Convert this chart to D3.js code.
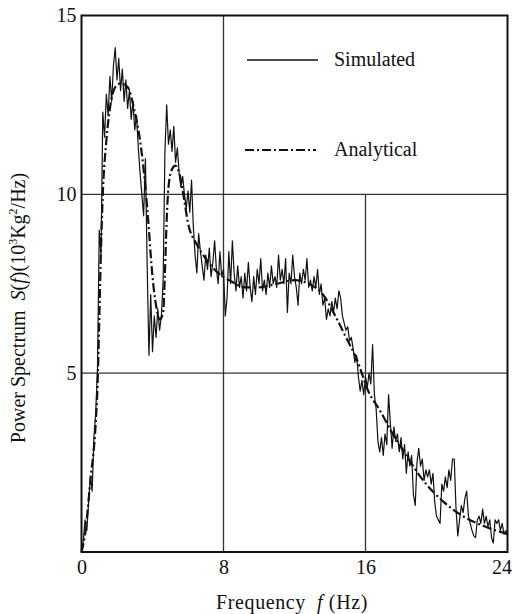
<!DOCTYPE html>
<html>
<head>
<meta charset="utf-8">
<script src="https://cdn.jsdelivr.net/npm/d3@7"></script>
<style>
  body { margin: 0; background: #fff; }
  svg text { font-family: "Liberation Serif", "DejaVu Serif", serif; fill: #111; }
</style>
</head>
<body>
<svg id="chart" width="512" height="614"></svg>
<script>
// ---- data ----
const xTicks = [0, 8, 16, 24];
const yTicks = [5, 10, 15];
const xGrid = [8];          // full-height vertical grid
const xGridLower = [16];    // vertical grid from 10 down to 0
const yGrid = [5, 10];
const seriesNames = ["Simulated", "Analytical"];

// Simulated spectrum, sampled every 0.1 Hz from 0 to 24 Hz
const simStep = 0.1;
const simulated = [
  0.0, 0.3, 0.9, 0.6, 1.4, 2.1, 1.7, 3.2, 3.9, 5.1,
  9.0, 8.3, 12.3, 11.6, 12.8, 12.2, 13.3, 12.6, 13.6, 14.1,
  13.2, 13.8, 12.9, 13.5, 12.6, 13.2, 12.4, 12.9, 12.1, 12.6,
  11.8, 12.2, 11.3, 10.6, 10.0, 9.4, 11.0, 8.0, 5.5, 7.2,
  5.6, 6.6, 6.0, 6.8, 6.2, 6.6, 7.6, 11.2, 12.5, 11.4,
  11.8, 11.2, 11.9, 10.9, 11.3, 10.6, 10.2, 10.5, 10.0, 9.6,
  10.1, 9.5, 10.4, 9.1, 8.3, 7.8, 8.9, 8.4, 8.0, 7.6,
  8.3, 7.9, 8.5, 7.7, 8.1, 8.7, 7.9, 7.5, 8.4, 7.7,
  7.9, 6.6, 7.1, 8.4, 7.5, 8.7, 7.8, 7.3, 8.0, 7.4,
  7.7, 7.1, 7.8, 7.3, 8.1, 7.4, 7.0, 7.7, 7.2, 7.9,
  7.5, 8.2, 7.3, 7.6, 7.2, 7.8, 7.4, 8.0, 7.5, 7.7,
  7.4, 8.3, 7.6, 7.9, 7.5, 8.2, 6.7, 7.8, 7.5, 8.3,
  7.7, 7.4, 6.9, 7.8, 7.5, 7.9, 7.6, 8.2, 7.4, 7.6,
  7.3, 7.7, 7.4, 7.9, 7.2, 7.5, 6.9, 7.1, 6.5, 6.8,
  6.6, 7.0, 6.7, 7.1, 6.8, 7.3, 7.1, 6.6, 6.4, 6.2,
  6.3, 5.9, 6.0, 5.7, 5.3, 5.5, 4.9, 4.5, 4.8, 4.4,
  4.9, 4.6, 5.0, 4.7, 5.8, 4.4, 4.0, 3.1, 2.8, 3.2,
  2.7, 3.3, 3.0, 4.4, 3.6, 2.9, 3.5, 3.1, 3.3, 2.8,
  3.2, 2.6, 3.0, 2.2, 2.8, 2.4, 2.7, 1.6, 1.3, 2.5,
  2.9, 2.4, 2.6, 2.0, 2.3, 2.1, 2.3, 1.9, 2.2, 1.4,
  1.0, 0.9, 0.8, 1.9, 1.7, 2.1, 1.8, 2.3, 2.0, 2.6,
  2.6, 1.2, 0.45, 0.9, 1.3, 1.1, 1.5, 1.7, 1.0, 0.8,
  0.6, 0.45, 0.4, 0.9, 1.0, 0.8, 1.2, 0.8, 1.0, 0.7,
  0.9, 0.4, 0.25, 0.9, 0.8, 0.9, 0.6, 0.8, 0.5, 0.6,
  0.5
];

// Analytical spectrum (frequency, value)
const analyticalF = [0, 0.2, 0.5, 0.8, 0.9, 1.0, 1.1, 1.2, 1.4, 1.6, 1.9, 2.2, 2.6, 3.0, 3.3, 3.6, 3.8, 3.9, 4.0, 4.2, 4.4, 4.6, 4.7, 4.8, 4.9, 5.1, 5.3, 5.5, 5.8, 6.0, 6.5, 7.0, 7.7, 8.5, 9.2, 10, 11, 12, 12.8, 13.6, 14.3, 14.9, 15.5, 16.2, 16.8, 17.5, 18.3, 19.1, 20.4, 21.5, 22.8, 24];
const analyticalS = [0, 0.5, 2.0, 3.6, 4.6, 6.5, 8.5, 10.0, 11.5, 12.4, 13.0, 13.1, 13.0, 12.3, 11.5, 10.2, 9.0, 8.3, 7.7, 6.9, 6.5, 6.7, 7.8, 9.3, 10.2, 10.7, 10.8, 10.6, 9.8, 9.2, 8.6, 8.2, 7.8, 7.55, 7.4, 7.4, 7.5, 7.6, 7.5, 7.2, 6.6, 6.0, 5.4, 4.45, 3.97, 3.33, 2.7, 2.1, 1.4, 1.0, 0.7, 0.5];

// ---- drawing ----
const svg = d3.select("#chart");
const x = d3.scaleLinear().domain([0, 24]).range([81.5, 507.5]);
const y = d3.scaleLinear().domain([0, 15]).range([552, 15.5]);

// grid
const g = svg.append("g");
g.selectAll(".hg").data(yGrid).enter().append("line")
  .attr("x1", x(0)).attr("x2", x(24))
  .attr("y1", d => y(d)).attr("y2", d => y(d))
  .attr("stroke", "#333").attr("stroke-width", 1.3);
g.selectAll(".vg").data(xGrid).enter().append("line")
  .attr("x1", d => x(d)).attr("x2", d => x(d))
  .attr("y1", y(15)).attr("y2", y(0))
  .attr("stroke", "#333").attr("stroke-width", 1.3);
g.selectAll(".vg2").data(xGridLower).enter().append("line")
  .attr("x1", d => x(d)).attr("x2", d => x(d))
  .attr("y1", y(10)).attr("y2", y(0))
  .attr("stroke", "#333").attr("stroke-width", 1.3);

// axes (labels only)
const xAxis = svg.append("g").attr("transform", `translate(0,${y(0)})`)
  .call(d3.axisBottom(x).tickValues(xTicks).tickSize(0).tickPadding(8).tickFormat(d3.format("d")));
const yAxis = svg.append("g").attr("transform", `translate(${x(0)},0)`)
  .call(d3.axisLeft(y).tickValues(yTicks).tickSize(0).tickPadding(5).tickFormat(d3.format("d")));
[xAxis, yAxis].forEach(a => {
  a.select(".domain").remove();
  a.selectAll("text").attr("font-size", 20).attr("fill", "#111")
    .attr("font-family", '"Liberation Serif", serif');
});
xAxis.selectAll("text").filter(d => d === 24).attr("dx", -6);

// frame
svg.append("rect")
  .attr("x", x(0)).attr("y", y(15))
  .attr("width", x(24) - x(0)).attr("height", y(0) - y(15))
  .attr("fill", "none").attr("stroke", "#111").attr("stroke-width", 2);

// series
const simData = simulated.map((v, i) => [i * simStep, v]);
const anaData = analyticalF.map((f, i) => [f, analyticalS[i]]);

svg.append("path").datum(anaData)
  .attr("d", d3.line().x(d => x(d[0])).y(d => y(d[1])).curve(d3.curveMonotoneX))
  .attr("fill", "none").attr("stroke", "#111").attr("stroke-width", 2.2)
  .attr("stroke-dasharray", "9,3,2,3");

svg.append("path").datum(simData)
  .attr("d", d3.line().x(d => x(d[0])).y(d => y(d[1])))
  .attr("fill", "none").attr("stroke", "#111").attr("stroke-width", 1.2)
  .attr("stroke-linejoin", "round");

// legend
const legY = [60, 150];
const legend = svg.append("g");
legend.append("line").attr("x1", 247).attr("x2", 318).attr("y1", legY[0]).attr("y2", legY[0])
  .attr("stroke", "#111").attr("stroke-width", 1.4);
legend.append("line").attr("x1", 245).attr("x2", 316).attr("y1", legY[1]).attr("y2", legY[1])
  .attr("stroke", "#111").attr("stroke-width", 2.2).attr("stroke-dasharray", "9,3,2,3");
legend.selectAll("text").data(seriesNames).enter().append("text")
  .attr("x", 334).attr("y", (d, i) => legY[i] + 6)
  .attr("font-size", 20).text(d => d);

// axis titles
const xt = svg.append("text").attr("x", 292).attr("y", 609)
  .attr("text-anchor", "middle").attr("font-size", 20).attr("letter-spacing", 0.6);
xt.append("tspan").text("Frequency\u00a0\u00a0");
xt.append("tspan").attr("font-style", "italic").text("f");
xt.append("tspan").text("\u00a0(Hz)");

const yt = svg.append("text")
  .attr("transform", "translate(25,308) rotate(-90)")
  .attr("text-anchor", "middle").attr("font-size", 20);
yt.append("tspan").text("Power Spectrum\u00a0\u00a0");
yt.append("tspan").attr("font-style", "italic").text("S");
yt.append("tspan").text("(");
yt.append("tspan").attr("font-style", "italic").text("f");
yt.append("tspan").text(")(10");
yt.append("tspan").attr("font-size", 12).attr("dy", -8).text("3");
yt.append("tspan").attr("dy", 8).text("Kg");
yt.append("tspan").attr("font-size", 12).attr("dy", -8).text("2");
yt.append("tspan").attr("dy", 8).text("/Hz)");
</script>
</body>
</html>
